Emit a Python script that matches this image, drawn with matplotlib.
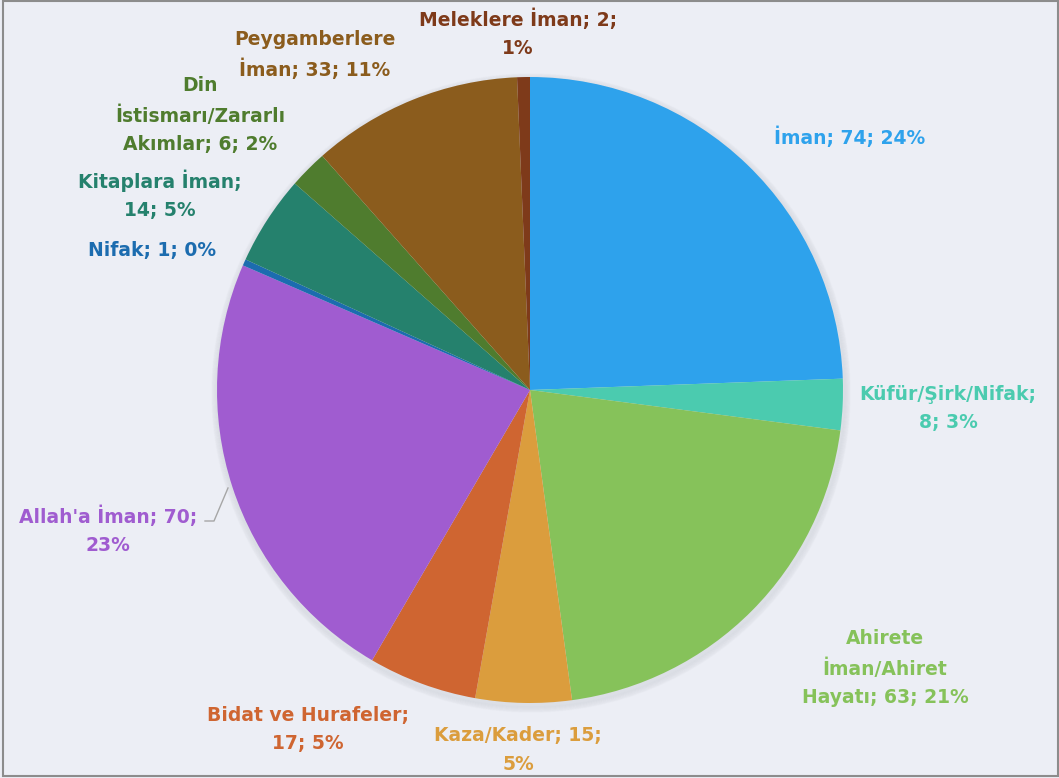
import matplotlib.pyplot as plt
from matplotlib.patches import Rectangle, Circle

# veri
kategoriler = ["İman", "Küfür/Şirk/Nifak", "Ahirete\nİman/Ahiret\nHayatı", "Kaza/Kader",
               "Bidat ve Hurafeler", "Allah'a İman", "Nifak", "Kitaplara İman",
               "Din\nİstismarı/Zararlı\nAkımlar", "Peygamberlere\nİman", "Meleklere İman"]
degerler = [74, 8, 63, 15, 17, 70, 1, 14, 6, 33, 2]
yuzdeler = ["24%", "3%", "21%", "5%", "5%", "23%", "0%", "5%", "2%", "11%", "1%"]
renkler = ['#2EA2EC', '#4BCBAF', '#86C25A', '#DB9D3D', '#CF6531', '#A05CD0',
           '#1C6CAF', '#25816D', '#4F7C2E', '#8B5C1D', '#7E3A1A']

# etiket metinleri (satir kirilmalari resimdeki gibi)
etiketler = ["İman; 74; 24%", "Küfür/Şirk/Nifak;\n8; 3%", "Ahirete\nİman/Ahiret\nHayatı; 63; 21%",
             "Kaza/Kader; 15;\n5%", "Bidat ve Hurafeler;\n17; 5%", "Allah'a İman; 70;\n23%",
             "Nifak; 1; 0%", "Kitaplara İman;\n14; 5%", "Din\nİstismarı/Zararlı\nAkımlar; 6; 2%",
             "Peygamberlere\nİman; 33; 11%", "Meleklere İman; 2;\n1%"]
# etiket konumlari (piksel, ustten)
konumlar = [(850, 137), (948, 408), (885, 668), (518, 750), (308, 730), (108, 530),
            (152, 250), (160, 195), (200, 115), (315, 55), (518, 33)]

W, H = 1059, 778
fig = plt.figure(figsize=(W / 100, H / 100), dpi=100)
fig.patch.set_facecolor('#ECEEF5')
ax = fig.add_axes([0, 0, 1, 1])

cx, cy, r = 530, H - 390, 313

# hafif golge
for k in range(6):
    ax.add_patch(Circle((cx + 1, cy - 3), r + 6 - k, color='#C9CCD4', alpha=0.08, zorder=0))

ax.pie(degerler, colors=renkler, startangle=90, counterclock=False,
       center=(cx, cy), radius=r, frame=True,
       wedgeprops={'linewidth': 0.6, 'edgecolor': 'none'})
ax.set_xlim(0, W)
ax.set_ylim(0, H)
ax.set_aspect('equal')
ax.axis('off')

for txt, (x, y), c in zip(etiketler, konumlar, renkler):
    ax.text(x, H - y, txt, ha='center', va='center', color=c, fontsize=13.5,
            fontweight='bold', linespacing=1.6, family='DejaVu Sans')

# Allah'a Iman icin kilavuz cizgi
ax.plot([205, 214, 228], [H - 521, H - 521, H - 488], color='#A6A6A6', lw=1)

# cerceve
ax.add_patch(Rectangle((3, 2), W - 4, H - 3, fill=False, edgecolor='#8C8C8C', lw=1.5))

fig.savefig('out.png', dpi=100, facecolor=fig.get_facecolor())
